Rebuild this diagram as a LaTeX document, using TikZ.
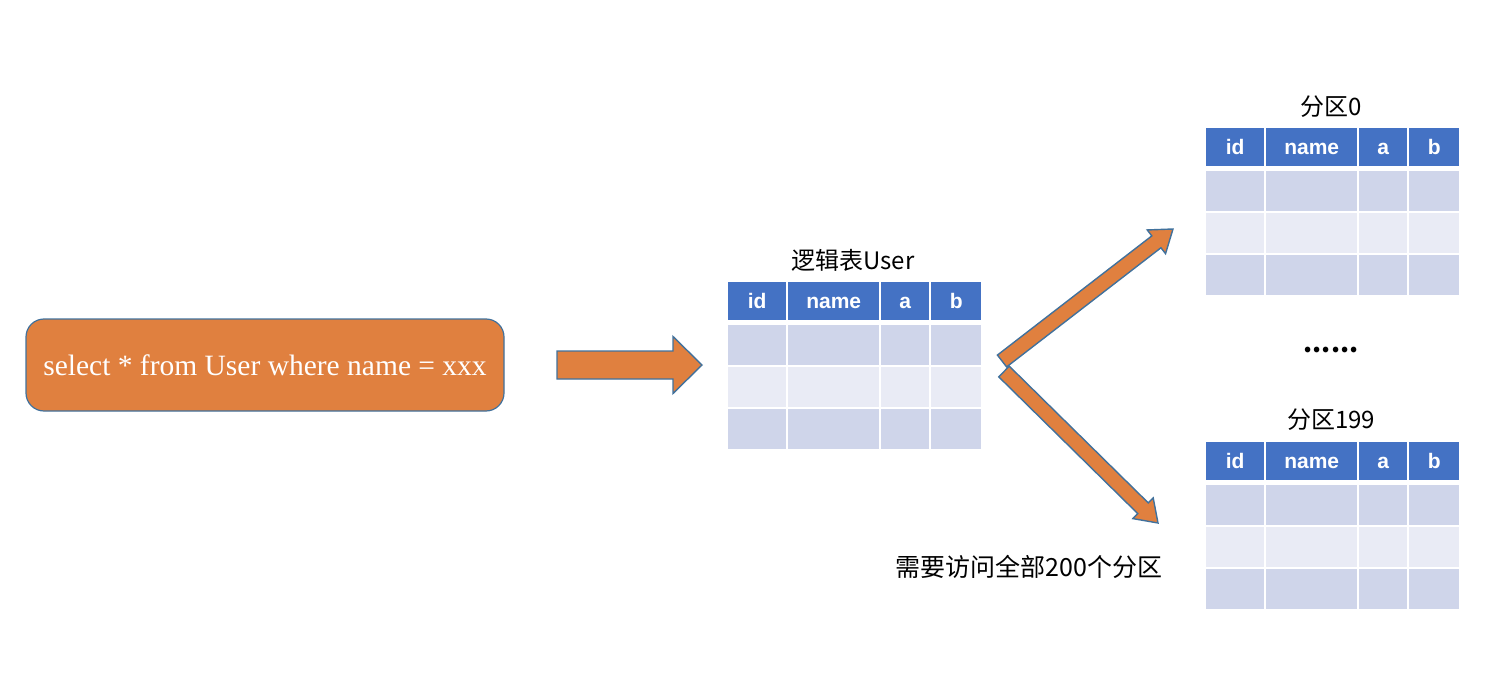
\documentclass[tikz,border=0pt]{standalone}
\usepackage{fontspec}
\usetikzlibrary{calc}
\newfontfamily\cjkfont{Noto Sans CJK SC}
\newfontfamily\sqlfont{Liberation Serif}
\newfontfamily\hdrfont{Liberation Sans}
\definecolor{hblue}{HTML}{4472C4}
\definecolor{rowA}{HTML}{CFD5EA}
\definecolor{rowB}{HTML}{E9EBF5}
\definecolor{orng}{HTML}{E0803F}
\definecolor{edgeblue}{HTML}{41719C}
\tikzset{
  barrow/.style={fill=orng, draw=edgeblue, line width=1.4pt, line join=miter},
  hcell/.style={fill=hblue, inner sep=0pt, minimum height=38pt, anchor=north west, text=white,
    text height=15pt, text depth=0pt,
    font=\hdrfont\bfseries\fontsize{21}{24}\selectfont},
  bcell/.style={inner sep=0pt, minimum height=40pt, anchor=north west},
  ttl/.style={font=\cjkfont\fontsize{24}{28}\selectfont, text=black, inner sep=0pt},
  sqlbox/.style={fill=orng, draw=edgeblue, line width=1.2pt, rounded corners=18pt,
    minimum width=478pt, minimum height=92pt, text=white,
    font=\sqlfont\fontsize{29.5}{33}\selectfont}
}
% block arrow from coordinate #1 to coordinate #2: shaft half width #3, head half width #4, head length #5
\newcommand\blockarrow[5]{%
  \coordinate (#1#2P) at ($(#2)!#5!(#1)$);
  \draw[barrow] ($(#1)!#3!90:(#2)$) -- ($(#1#2P)!#3!-90:(#1)$) -- ($(#1#2P)!#4!-90:(#1)$)
    -- (#2) -- ($(#1#2P)!#4!90:(#1)$) -- ($(#1#2P)!#3!90:(#1)$) -- ($(#1)!#3!-90:(#2)$) -- cycle;}
% table: name, left x, top y
\newcommand\dbtable[3]{%
  \foreach \l/\w/\t [count=\i] in {0/58/id,60/91/name,153/48/a,203/50/b}{
    \node[hcell, minimum width=\w pt] (#1-h\i) at ({#2+\l},{#3}) {\t};
    \foreach \r/\c in {1/rowA,2/rowB,3/rowA}{
      \node[bcell, fill=\c, minimum width=\w pt] (#1-r\r c\i) at ({#2+\l},{#3+43+(\r-1)*42}) {};
    }
  }
}
\begin{document}
\begin{tikzpicture}[x=1pt, y=-1pt]
\useasboundingbox (0,0) rectangle (1500,698);

\node[sqlbox] (sql) at (265,365) {select * from User where name = xxx};

\coordinate (a1s) at (557,365);
\coordinate (a1e) at (702,365);
\blockarrow{a1s}{a1e}{14pt}{28.5pt}{29pt}

\node[ttl] (ltitle) at (853,260) {逻辑表User};
\dbtable{lt}{728}{282}

\coordinate (a2s) at (1002,361);
\coordinate (a2e) at (1173,229);
\blockarrow{a2s}{a2e}{7.5pt}{15pt}{21pt}
\coordinate (a3s) at (1004,371.5);
\coordinate (a3e) at (1158,523);
\blockarrow{a3s}{a3e}{7.5pt}{14.5pt}{21pt}

\node[ttl] (p0title) at (1331,107) {分区0};
\dbtable{p0}{1206}{128}

\node[ttl, font=\cjkfont\bfseries\fontsize{26}{28}\selectfont] (dots) at (1331,350) {......};

\node[ttl] (p199title) at (1331,420) {分区199};
\dbtable{p199}{1206}{442}

\node[ttl, font=\cjkfont\fontsize{25}{28}\selectfont] (note) at (1029,567) {需要访问全部200个分区};
\end{tikzpicture}
\end{document}
